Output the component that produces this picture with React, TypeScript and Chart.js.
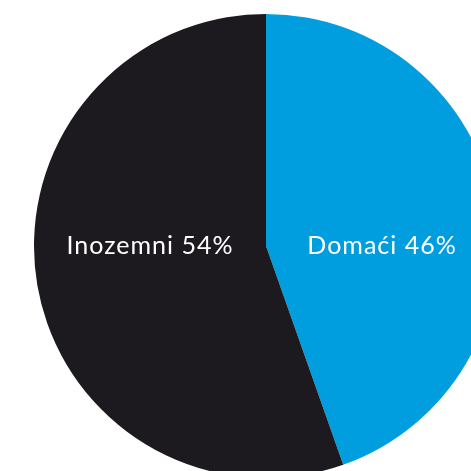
import React, { useEffect, useRef } from "react";
import { Chart, registerables } from "chart.js";

Chart.register(...registerables);

const categories = ["Domaći", "Inozemni"];
const values = [44.6, 55.4];
const percentLabels = ["46%", "54%"];
const colors = ["#009ddf", "#1c1a1f"];

const labelPlugin = {
  id: "sliceLabels",
  afterDatasetsDraw(chart: any) {
    const meta = chart.getDatasetMeta(0);
    const ctx = chart.ctx;
    ctx.save();
    ctx.fillStyle = "#ffffff";
    ctx.font = "25px Lato";
    (ctx as any).letterSpacing = "1px";
    ctx.textAlign = "center";
    ctx.textBaseline = "middle";
    meta.data.forEach((arc: any, i: number) => {
      const p = arc.getProps(["x", "y", "outerRadius", "startAngle", "endAngle"], true);
      const mid = (p.startAngle + p.endAngle) / 2;
      const dir = Math.cos(mid) >= 0 ? 1 : -1;
      const x = p.x + dir * p.outerRadius * 0.5;
      const y = p.y;
      ctx.fillText(`${categories[i]} ${percentLabels[i]}`, x, y);
    });
    ctx.restore();
  },
};

export default function App() {
  const ref = useRef<HTMLCanvasElement>(null);
  useEffect(() => {
    document.body.style.margin = "0";
    document.body.style.overflow = "hidden";
    const chart = new Chart(ref.current!, {
      type: "pie",
      data: {
        labels: categories,
        datasets: [
          {
            data: values,
            backgroundColor: colors,
            borderWidth: 0,
          },
        ],
      },
      options: {
        responsive: false,
        animation: false,
        layout: { padding: 0 },
        plugins: { legend: { display: false }, tooltip: { enabled: false } },
      },
      plugins: [labelPlugin],
    });
    return () => chart.destroy();
  }, []);
  return (
    <div style={{ position: "relative", width: 471, height: 471, overflow: "hidden" }}>
      <div style={{ position: "absolute", left: 33.5, top: 13.5, width: 464, height: 464 }}>
        <canvas ref={ref} width={464} height={464} />
      </div>
    </div>
  );
}
